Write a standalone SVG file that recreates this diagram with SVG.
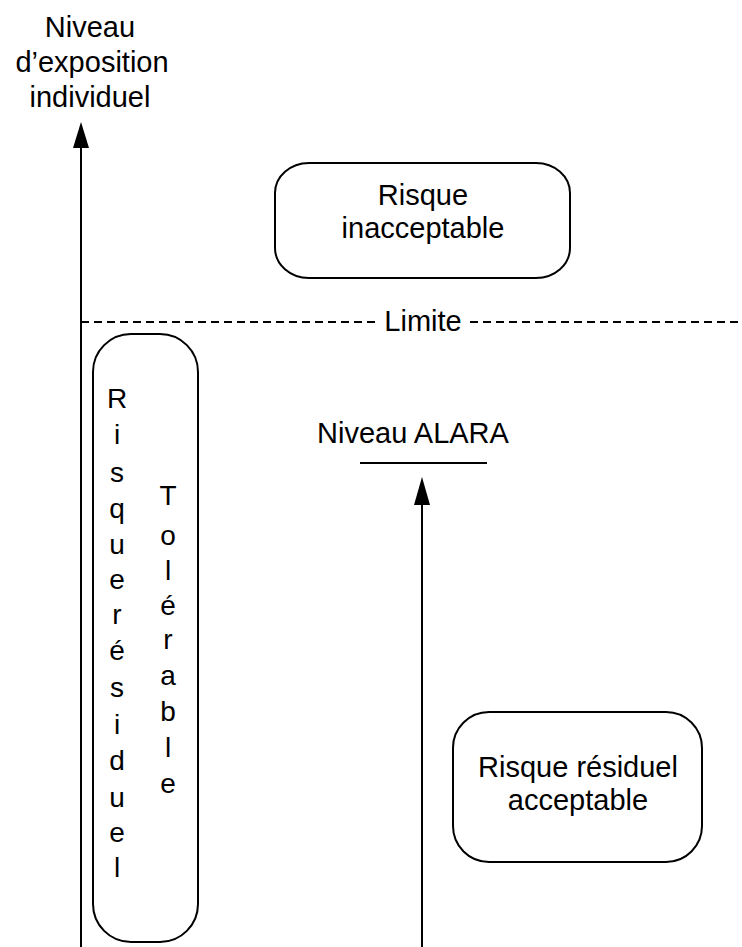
<svg xmlns="http://www.w3.org/2000/svg" width="742" height="947" viewBox="0 0 742 947">
<style>
text{font-family:"Liberation Sans",Arial,sans-serif;font-size:29px;fill:#000;text-anchor:middle}
.box{fill:none;stroke:#000;stroke-width:2}
.ln{stroke:#000;stroke-width:2;fill:none}
.dash{stroke:#000;stroke-width:2;stroke-dasharray:8 5;fill:none}
.v text{font-size:28px}
</style>
<rect width="742" height="947" fill="#fff"/>
<g id="connectors">
<line class="ln" x1="81" y1="146" x2="81" y2="947"/>
<polygon points="81,122 73,148 89,148" fill="#000"/>
<line class="ln" x1="422" y1="503" x2="422" y2="947"/>
<polygon points="422,477 414,505 430,505" fill="#000"/>
<line class="dash" x1="81" y1="322" x2="378" y2="322"/>
<line class="dash" x1="470" y1="322" x2="742" y2="322"/>
<line class="ln" x1="360" y1="463" x2="487" y2="463"/>
</g>
<g id="axis-label">
<text x="90" y="37">Niveau</text>
<text x="92" y="72">d’exposition</text>
<text x="90" y="107">individuel</text>
</g>
<g id="limite"><text x="423" y="331">Limite</text></g>
<g id="alara"><text x="413" y="443">Niveau ALARA</text></g>
<g id="risque-inacceptable">
<rect class="box" x="275" y="163" width="295" height="115" rx="34" ry="30"/>
<text x="423" y="205">Risque</text>
<text x="423" y="238">inacceptable</text>
</g>
<g id="risque-tolerable" class="v">
<rect class="box" x="93" y="334" width="105" height="608" rx="38" ry="38"/>
<text x="117" y="408">R</text>
<text x="117" y="444">i</text>
<text x="117" y="482">s</text>
<text x="117" y="518">q</text>
<text x="117" y="554">u</text>
<text x="117" y="589">e</text>
<text x="117" y="624">r</text>
<text x="117" y="660">é</text>
<text x="117" y="697">s</text>
<text x="117" y="734">i</text>
<text x="117" y="770">d</text>
<text x="117" y="807">u</text>
<text x="117" y="842">e</text>
<text x="117" y="877">l</text>
<text x="168" y="505">T</text>
<text x="168" y="545">o</text>
<text x="168" y="580">l</text>
<text x="168" y="615">é</text>
<text x="168" y="649">r</text>
<text x="168" y="685">a</text>
<text x="168" y="721">b</text>
<text x="168" y="757">l</text>
<text x="168" y="793">e</text>
</g>
<g id="risque-acceptable">
<rect class="box" x="453" y="712" width="249" height="150" rx="36" ry="36"/>
<text x="578" y="777">Risque résiduel</text>
<text x="578" y="810">acceptable</text>
</g>
</svg>
